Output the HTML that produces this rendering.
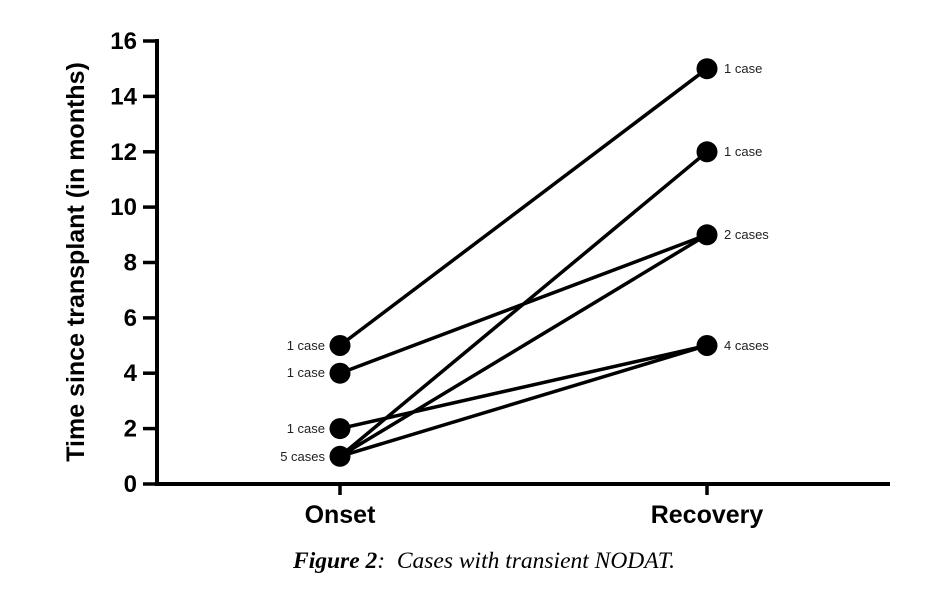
<!DOCTYPE html>
<html><head><style>body{margin:0;background:#fff}</style></head><body>
<svg width="937" height="589" viewBox="0 0 937 589" xmlns="http://www.w3.org/2000/svg">
<g stroke="#000" stroke-width="4" fill="none">
<line x1="157" y1="39" x2="157" y2="486"/>
<line x1="155" y1="484" x2="890" y2="484"/>
<g stroke-width="3.5">
<line x1="143" y1="41" x2="157" y2="41"/><line x1="143" y1="96.4" x2="157" y2="96.4"/>
<line x1="143" y1="151.8" x2="157" y2="151.8"/><line x1="143" y1="207.1" x2="157" y2="207.1"/>
<line x1="143" y1="262.5" x2="157" y2="262.5"/><line x1="143" y1="317.9" x2="157" y2="317.9"/>
<line x1="143" y1="373.2" x2="157" y2="373.2"/><line x1="143" y1="428.6" x2="157" y2="428.6"/>
<line x1="143" y1="484" x2="157" y2="484"/>
<line x1="340" y1="484" x2="340" y2="495"/><line x1="707" y1="484" x2="707" y2="495"/>
</g>
<g stroke-width="3.5">
<line x1="340" y1="345.5" x2="707" y2="68.7"/>
<line x1="340" y1="373.2" x2="707" y2="234.8"/>
<line x1="340" y1="428.6" x2="707" y2="345.5"/>
<line x1="340" y1="456.3" x2="707" y2="151.8"/>
<line x1="340" y1="456.3" x2="707" y2="234.8"/>
<line x1="340" y1="456.3" x2="707" y2="345.5"/>
</g>
</g>
<g fill="#000">
<circle cx="340" cy="345.5" r="10.5"/><circle cx="340" cy="373.2" r="10.5"/>
<circle cx="340" cy="428.6" r="10.5"/><circle cx="340" cy="456.3" r="10.5"/>
<circle cx="707" cy="68.7" r="10.5"/><circle cx="707" cy="151.8" r="10.5"/>
<circle cx="707" cy="234.8" r="10.5"/><circle cx="707" cy="345.5" r="10.5"/>
</g>
<g font-family="Liberation Sans, sans-serif" font-weight="bold" font-size="24" text-anchor="end">
<text x="137" y="49">16</text><text x="137" y="104.4">14</text><text x="137" y="159.8">12</text>
<text x="137" y="215.1">10</text><text x="137" y="270.5">8</text><text x="137" y="325.9">6</text>
<text x="137" y="381.2">4</text><text x="137" y="436.6">2</text><text x="137" y="492">0</text>
</g>
<text transform="translate(84,262) rotate(-90)" font-family="Liberation Sans, sans-serif" font-weight="bold" font-size="25" text-anchor="middle">Time since transplant (in months)</text>
<g font-family="Liberation Sans, sans-serif" font-weight="bold" font-size="25" text-anchor="middle">
<text x="340" y="523">Onset</text><text x="707" y="523">Recovery</text>
</g>
<g font-family="Liberation Sans, sans-serif" font-size="13" fill="#222">
<g text-anchor="end">
<text x="325" y="350">1 case</text><text x="325" y="377">1 case</text>
<text x="325" y="433">1 case</text><text x="325" y="461">5 cases</text>
</g>
<text x="724" y="73">1 case</text><text x="724" y="156">1 case</text>
<text x="724" y="239">2 cases</text><text x="724" y="350">4 cases</text>
</g>
<text x="484" y="568" xml:space="preserve" font-family="Liberation Serif, serif" font-style="italic" font-size="23.5" text-anchor="middle"><tspan font-weight="bold">Figure 2</tspan>:  Cases with transient NODAT.</text>
</svg>
</body></html>
